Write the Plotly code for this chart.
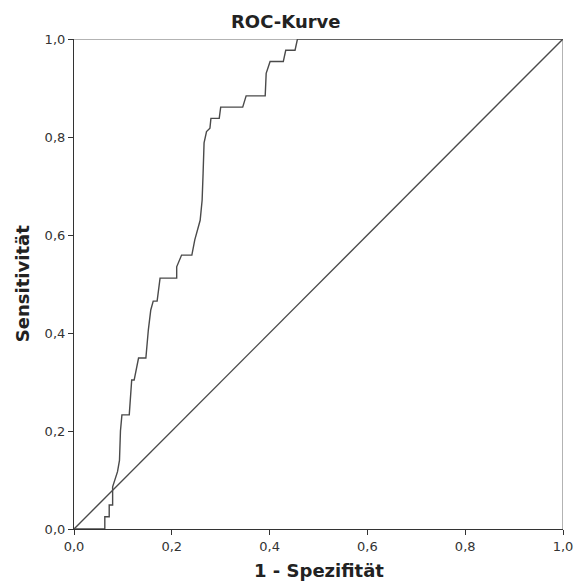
import plotly.graph_objects as go

# ROC curve points (1 - specificity, sensitivity)
fpr = [0.0, 0.063, 0.063, 0.072, 0.072, 0.079, 0.079, 0.084, 0.089, 0.093,
       0.095, 0.098, 0.113, 0.118, 0.123, 0.132, 0.147, 0.152, 0.154, 0.157,
       0.162, 0.170, 0.176, 0.210, 0.210, 0.220, 0.241, 0.247, 0.258, 0.262,
       0.264, 0.266, 0.271, 0.278, 0.280, 0.297, 0.300, 0.345, 0.352, 0.391,
       0.393, 0.401, 0.428, 0.433, 0.452, 0.457, 1.0]
tpr = [0.0, 0.0, 0.025, 0.025, 0.049, 0.049, 0.086, 0.100, 0.117, 0.140,
       0.200, 0.233, 0.233, 0.304, 0.304, 0.349, 0.349, 0.406, 0.427, 0.447,
       0.465, 0.465, 0.512, 0.512, 0.535, 0.559, 0.559, 0.590, 0.630, 0.671,
       0.726, 0.788, 0.811, 0.818, 0.838, 0.838, 0.861, 0.861, 0.884, 0.884,
       0.930, 0.954, 0.954, 0.977, 0.977, 1.0, 1.0]
diag = [0.0, 1.0]

tick_vals = [0.0, 0.2, 0.4, 0.6, 0.8, 1.0]
tick_text = ["0,0", "0,2", "0,4", "0,6", "0,8", "1,0"]

title_text = "ROC-Kurve"
x_title = "1 - Spezifität"
y_title = "Sensitivität"

FONT = "DejaVu Sans"
LINE = "#4a4a4a"

fig = go.Figure()
fig.add_trace(go.Scatter(x=diag, y=diag, mode="lines",
                         line=dict(color=LINE, width=1.4), showlegend=False,
                         hoverinfo="skip"))
fig.add_trace(go.Scatter(x=fpr, y=tpr, mode="lines",
                         line=dict(color=LINE, width=1.4), showlegend=False))

axis_common = dict(range=[0, 1], tickvals=tick_vals, ticktext=tick_text,
                   ticks="outside", ticklen=5, tickcolor="#333333",
                   showgrid=False, zeroline=False, showline=True,
                   linecolor="#333333", linewidth=1.2, automargin=False,
                   tickfont=dict(family=FONT, size=13, color="#333333"))

fig.update_xaxes(**axis_common)
fig.update_yaxes(**axis_common)

# top and right frame lines (lighter)
fig.add_shape(type="line", xref="x", yref="y", x0=0, x1=1, y0=1, y1=1,
              line=dict(color="#9a9a9a", width=1.5), layer="below")
fig.add_shape(type="line", xref="x", yref="y", x0=1, x1=1, y0=0, y1=1,
              line=dict(color="#9a9a9a", width=1.5), layer="below")

fig.add_annotation(text="<b>%s</b>" % title_text, xref="paper", yref="paper",
                   x=0.4335, y=1.0367, xanchor="center", yanchor="middle",
                   showarrow=False,
                   font=dict(family=FONT, size=18, color="#222222"))
fig.add_annotation(text="<b>%s</b>" % x_title, xref="paper", yref="paper",
                   x=0.5, y=-0.0857, xanchor="center", yanchor="middle",
                   showarrow=False,
                   font=dict(family=FONT, size=18, color="#222222"))
fig.add_annotation(text="<b>%s</b>" % y_title, xref="paper", yref="paper",
                   x=-0.106, y=0.5, xanchor="center", yanchor="middle",
                   showarrow=False, textangle=-90,
                   font=dict(family=FONT, size=18, color="#222222"))

fig.update_layout(width=575, height=582,
                  margin=dict(l=74, r=12, t=39, b=53),
                  paper_bgcolor="white", plot_bgcolor="white")

fig.write_html("out.html", config={"displayModeBar": False})

# remove default body margin so the figure sits at the window origin
with open("out.html", encoding="utf-8") as f:
    html = f.read()
html = html.replace("<body>", '<body style="margin:0;overflow:hidden">', 1)
with open("out.html", "w", encoding="utf-8") as f:
    f.write(html)
